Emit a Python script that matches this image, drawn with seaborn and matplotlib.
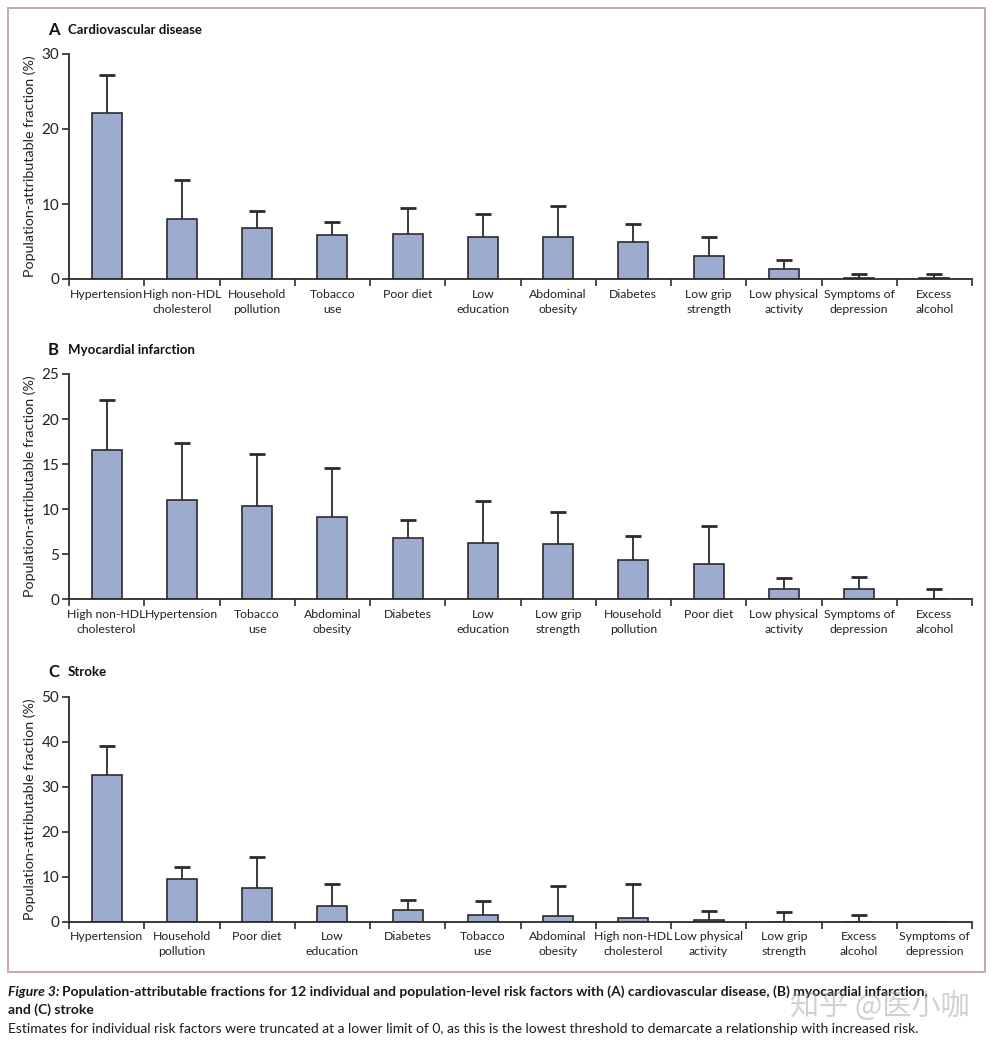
import pandas as pd
import seaborn as sns
import matplotlib
matplotlib.use('Agg')
import matplotlib.pyplot as plt
from matplotlib.patches import Rectangle
import numpy as np

sns.set_theme(style="ticks")
plt.rcParams['font.family'] = ['Lato', 'DejaVu Sans']
plt.rcParams['figure.dpi'] = 100

# A: cardiovascular disease
cvd_factors = ["Hypertension", "High non-HDL\ncholesterol", "Household\npollution", "Tobacco\nuse",
               "Poor diet", "Low\neducation", "Abdominal\nobesity", "Diabetes", "Low grip\nstrength",
               "Low physical\nactivity", "Symptoms of\ndepression", "Excess\nalcohol"]
cvd_paf = [22.1, 8.0, 6.8, 5.9, 6.0, 5.6, 5.6, 4.9, 3.1, 1.3, 0.2, 0.2]
cvd_upper = [27.2, 13.2, 9.1, 7.6, 9.4, 8.7, 9.7, 7.3, 5.6, 2.6, 0.7, 0.7]

# B: myocardial infarction
mi_factors = ["High non-HDL\ncholesterol", "Hypertension", "Tobacco\nuse", "Abdominal\nobesity",
              "Diabetes", "Low\neducation", "Low grip\nstrength", "Household\npollution", "Poor diet",
              "Low physical\nactivity", "Symptoms of\ndepression", "Excess\nalcohol"]
mi_paf = [16.6, 11.0, 10.4, 9.1, 6.8, 6.3, 6.1, 4.4, 3.9, 1.1, 1.1, 0.0]
mi_upper = [22.1, 17.3, 16.1, 14.6, 8.8, 10.9, 9.7, 7.0, 8.1, 2.4, 2.5, 1.1]

# C: stroke
stroke_factors = ["Hypertension", "Household\npollution", "Poor diet", "Low\neducation", "Diabetes",
                  "Tobacco\nuse", "Abdominal\nobesity", "High non-HDL\ncholesterol", "Low physical\nactivity",
                  "Low grip\nstrength", "Excess\nalcohol", "Symptoms of\ndepression"]
stroke_paf = [32.7, 9.5, 7.4, 3.6, 2.6, 1.6, 1.3, 0.9, 0.4, 0.0, 0.0, 0.0]
stroke_upper = [39.1, 12.1, 14.5, 8.4, 4.8, 4.5, 8.0, 8.5, 2.3, 2.1, 1.6, 0.0]

panel_letters = ["A", "B", "C"]
panel_titles = ["Cardiovascular disease", "Myocardial infarction", "Stroke"]
y_max = [30, 25, 50]
y_step = [10, 5, 10]

bar_color = "#9dabd0"
dark = "#2b2b2b"
W, H = 998, 1049

fig = plt.figure(figsize=(W / 100, H / 100))

# axes rectangles in pixels: (left, bottom, right, top)
boxes = [(69, 279, 972, 54), (69, 599.3, 972, 374), (69, 921.7, 972, 697)]
title_y = [30, 350, 672]

panels = [(cvd_factors, cvd_paf, cvd_upper),
          (mi_factors, mi_paf, mi_upper),
          (stroke_factors, stroke_paf, stroke_upper)]

for i, (factors, paf, upper) in enumerate(panels):
    l, b, r, t = boxes[i]
    ax = fig.add_axes([l / W, 1 - b / H, (r - l) / W, (b - t) / H])
    df = pd.DataFrame({"factor": factors, "paf": paf})
    sns.barplot(data=df, x="factor", y="paf", color=bar_color, saturation=1, width=0.4,
                edgecolor=dark, linewidth=1.2, ax=ax)

    # one-sided (upper) error bars, no cap at the bar top
    paf_arr = np.array(paf)
    err = np.array(upper) - paf_arr
    pos = np.arange(len(factors))
    m = err > 0
    eb = ax.errorbar(pos[m], paf_arr[m], yerr=[np.zeros(m.sum()), err[m]], fmt='none',
                     ecolor=dark, elinewidth=1.3, capsize=5.5, capthick=2, zorder=1)
    for cl in eb[1]:
        if np.allclose(cl.get_ydata(), paf_arr[m]):
            cl.set_visible(False)

    n = len(factors)
    ax.set_xlim(-0.5, n - 0.5)
    ax.set_ylim(0, y_max[i])
    ax.set_yticks(np.arange(0, y_max[i] + 1, y_step[i]))
    ax.set_xticks(pos)
    ax.set_xticklabels(factors, linespacing=1.45)
    ax.set_xticks(np.arange(-0.5, n, 1), minor=True)
    ax.tick_params(axis='x', which='major', length=0, pad=7, labelsize=8.8, colors='#222222')
    ax.tick_params(axis='x', which='minor', length=5, width=1.2, direction='out', color=dark)
    ax.tick_params(axis='y', length=5, width=1.2, direction='out', color=dark,
                   labelsize=11, labelcolor='#222222', pad=2)
    ax.set_xlabel("")
    ax.set_ylabel("Population-attributable fraction (%)", fontsize=10.3, color='#222222')
    ax.yaxis.set_label_coords(-33 / (r - l), 0.5)
    sns.despine(ax=ax)
    for s in ["left", "bottom"]:
        ax.spines[s].set_linewidth(1.3)
        ax.spines[s].set_color(dark)
    ax.set_facecolor("white")

    fig.text(48 / W, 1 - title_y[i] / H, panel_letters[i], fontsize=12, fontweight='bold',
             color='#111111', va='center', ha='left')
    fig.text(68 / W, 1 - title_y[i] / H, panel_titles[i], fontsize=9.5, fontweight='bold',
             color='#111111', va='center', ha='left')

# frame around the figure panels
fig.add_artist(Rectangle((8 / W, 1 - 972 / H), (985 - 8) / W, (972 - 8) / H,
                         transform=fig.transFigure, fill=False, edgecolor='#c9a3b8', lw=1.4))

# caption
fig.canvas.draw()
rend = fig.canvas.get_renderer()
t1 = fig.text(8 / W, 1 - 992 / H, "Figure 3:", fontsize=10, fontweight='bold', fontstyle='italic',
              color='#1a1a1a', va='center', ha='left')
bb = t1.get_window_extent(renderer=rend)
fig.text(bb.x1 / W + 3 / W, 1 - 992 / H,
         "Population-attributable fractions for 12 individual and population-level risk factors with "
         "(A) cardiovascular disease, (B) myocardial infarction,",
         fontsize=10, fontweight='bold', color='#1a1a1a', va='center', ha='left')
fig.text(8 / W, 1 - 1010 / H, "and (C) stroke", fontsize=10, fontweight='bold', color='#1a1a1a',
         va='center', ha='left')
fig.text(8 / W, 1 - 1029 / H,
         "Estimates for individual risk factors were truncated at a lower limit of 0, as this is the "
         "lowest threshold to demarcate a relationship with increased risk.",
         fontsize=10, color='#1a1a1a', va='center', ha='left')

# watermark
fig.text(880 / W, 1 - 1008 / H, "知乎 @医小咖", family=['Noto Sans CJK SC', 'DejaVu Sans'],
         fontsize=21, color='#9a9a9a', alpha=0.45, ha='center', va='center')

fig.savefig("out.png", dpi=100, facecolor="white")
